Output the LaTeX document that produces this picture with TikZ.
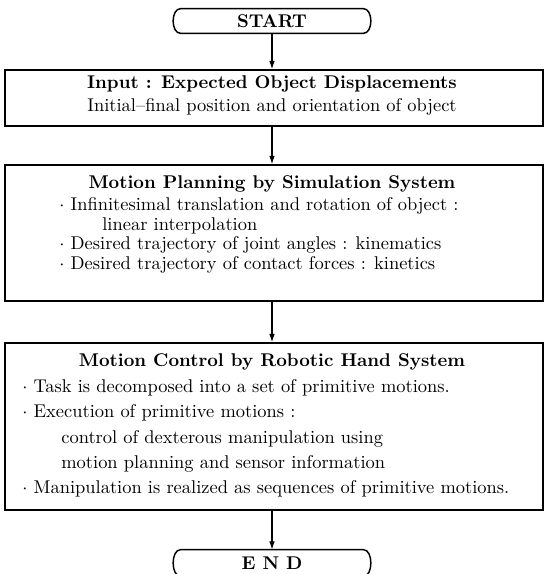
\documentclass[tikz,border=0pt]{standalone}
\usetikzlibrary{arrows.meta}
\begin{document}
\begin{tikzpicture}[x=0.542pt,y=-0.542pt,
  box/.style={draw, line width=0.8pt, minimum width=538*0.542pt, inner sep=0pt},
  term/.style={minimum width=182*0.542pt, minimum height=24*0.542pt, inner sep=0pt, font=\bfseries},
  termline/.style={line width=0.8pt, line join=round},
  arr/.style={line width=0.6pt, -{Latex[length=4.5pt,width=3pt]}},
  ttl/.style={anchor=mid, font=\bfseries, inner sep=0pt},
  txt/.style={anchor=mid west, inner sep=0pt},
  ctr/.style={anchor=mid, inner sep=0pt}]
\useasboundingbox (0,0) rectangle (546,574);
% terminals and boxes
\node[term] (start) at (272,21) {START};
\draw[termline] (start.north west) -- (start.north east)
  .. controls +(10,0) and +(10,0) .. (start.south east) -- (start.south west)
  .. controls +(-10,0) and +(-10,0) .. cycle;
\node[box, minimum height=56*0.542pt] (input) at (274,98) {};
\node[box, minimum height=136*0.542pt] (plan) at (274,233) {};
\node[box, minimum height=167*0.542pt] (ctrl) at (274,426.5) {};
\node[term, minimum height=26*0.542pt] (end) at (272,563) {E N D};
\draw[termline] (end.north west) -- (end.north east)
  .. controls +(10,0) and +(10,0) .. (end.south east) -- (end.south west)
  .. controls +(-10,0) and +(-10,0) .. cycle;
% input text
\node[ttl] (inT) at (272,85) {Input : Expected Object Displacements};
\node[ctr] (inS) at (272,108) {Initial--final position and orientation of object};
% planning text
\node[ttl] (plT) at (272,185) {Motion Planning by Simulation System};
\node[txt] (pl1) at (59,207) {$\cdot$ Infinitesimal translation and rotation of object :};
\node[txt] (pl2) at (102,226.5) {linear interpolation};
\node[txt] (pl3) at (59,246) {$\cdot$ Desired trajectory of joint angles : kinematics};
\node[txt] (pl4) at (59,265.5) {$\cdot$ Desired trajectory of contact forces : kinetics};
% control text
\node[ttl] (ctT) at (272,363) {Motion Control by Robotic Hand System};
\node[txt] (ct1) at (22,389) {$\cdot$ Task is decomposed into a set of primitive motions.};
\node[txt] (ct2) at (22,414) {$\cdot$ Execution of primitive motions :};
\node[txt] (ct3) at (61,440) {control of dexterous manipulation using};
\node[txt] (ct4) at (61,465) {motion planning and sensor information};
\node[txt] (ct5) at (22,490) {$\cdot$ Manipulation is realized as sequences of primitive motions.};
% connectors
\draw[arr] (start.south) -- (start.south |- input.north);
\draw[arr] (start.south |- input.south) -- (start.south |- plan.north);
\draw[arr] (start.south |- plan.south) -- (start.south |- ctrl.north);
\draw[arr] (start.south |- ctrl.south) -- (end.north);
\end{tikzpicture}
\end{document}
